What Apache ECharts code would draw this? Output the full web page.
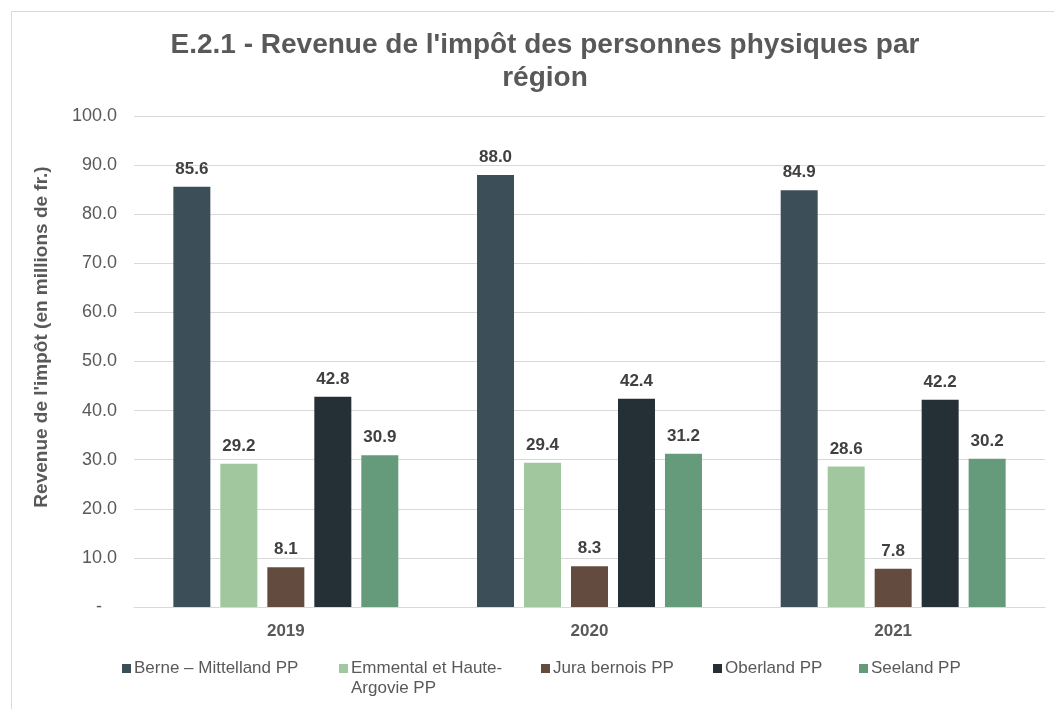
<!DOCTYPE html>
<html>
<head>
<meta charset="utf-8">
<script src="https://cdn.jsdelivr.net/npm/echarts@6/dist/echarts.min.js"></script>
<style>
    html, body { margin: 0; padding: 0; background: #fff; }
    .chart { width: 1054px; height: 709px; }
</style>
</head>
<body>
<div class="chart"></div>
<script>
// données du graphique
var years = ['2019', '2020', '2021'];
var regions = ['Berne – Mittelland PP', 'Emmental et Haute-Argovie PP', 'Jura bernois PP', 'Oberland PP', 'Seeland PP'];
var berne = [85.6, 88.0, 84.9];
var emmental = [29.2, 29.4, 28.6];
var jura = [8.1, 8.3, 7.8];
var oberland = [42.8, 42.4, 42.2];
var seeland = [30.9, 31.2, 30.2];
var colors = ['#3c4f59', '#a1c79f', '#644b40', '#252f36', '#659b7a'];

(function() {
    var myChart = echarts.init(document.querySelector('.chart'));
    var font = 'Liberation Sans, Arial, sans-serif';
    var values = [berne, emmental, jura, oberland, seeland];

    // une légende par série, placée à la main comme dans Excel
    var legendLeft = [117, 334, 536, 708, 854];
    var legends = regions.map(function(name, i) {
        var lg = {
            data: [name],
            left: legendLeft[i],
            top: 655,
            icon: 'rect',
            itemWidth: 9,
            itemHeight: 9,
            itemGap: 0,
            selectedMode: false,
            textStyle: { fontFamily: font, fontSize: 17, color: '#595959', padding: [0, 0, 0, -2] }
        };
        if (i === 1) {
            // la deuxième ligne est posée à part (voir graphic)
            lg.formatter = function() { return 'Emmental et Haute-'; };
        }
        return lg;
    });

    var series = regions.map(function(name, i) {
        return {
            name: name,
            type: 'bar',
            barWidth: 37,
            barGap: '27%',
            itemStyle: { color: colors[i] },
            label: {
                show: true,
                position: 'top',
                distance: 9,
                fontFamily: font,
                fontSize: 17,
                fontWeight: 'bold',
                color: '#404040',
                formatter: function(p) { return p.value.toFixed(1); }
            },
            data: values[i]
        };
    });

    var option = {
        backgroundColor: '#fff',
        animation: false,
        title: {
            text: "E.2.1 - Revenue de l'impôt des personnes physiques par\nrégion",
            left: 540,
            top: 24,
            textAlign: 'center',
            textStyle: { fontFamily: font, fontSize: 28, fontWeight: 'bold', color: '#595959', lineHeight: 33 }
        },
        legend: legends,
        grid: { left: 134, right: 9, top: 116, bottom: 102 },
        xAxis: {
            type: 'category',
            data: years,
            axisLine: { lineStyle: { color: '#d9d9d9', width: 1 } },
            axisTick: { show: false },
            axisLabel: { margin: 16, fontFamily: font, fontSize: 17, fontWeight: 'bold', color: '#595959' }
        },
        yAxis: {
            type: 'value',
            min: 0,
            max: 100,
            interval: 10,
            axisLine: { show: false },
            axisTick: { show: false },
            splitLine: { lineStyle: { color: '#d9d9d9', width: 1 } },
            axisLabel: {
                margin: 17,
                fontFamily: font,
                fontSize: 18,
                color: '#595959',
                formatter: function(v) { return v === 0 ? '-   ' : v.toFixed(1); }
            }
        },
        graphic: [
            {
                type: 'rect',
                shape: { x: 11.5, y: 11.5, width: 1100, height: 800 },
                style: { fill: 'none', stroke: '#d9d9d9', lineWidth: 1 },
                silent: true
            },
            {
                type: 'text',
                x: 42,
                y: 337,
                rotation: Math.PI / 2,
                style: {
                    text: "Revenue de l'impôt (en millions de fr.)",
                    fontFamily: font,
                    fontSize: 19,
                    fontWeight: 'bold',
                    fill: '#595959',
                    align: 'center',
                    verticalAlign: 'middle'
                }
            },
            {
                type: 'text',
                x: 351,
                y: 688,
                style: {
                    text: 'Argovie PP',
                    fontFamily: font,
                    fontSize: 17,
                    fill: '#595959',
                    align: 'left',
                    verticalAlign: 'middle'
                }
            }
        ],
        series: series
    };
    myChart.setOption(option);
})();
</script>
</body>
</html>
